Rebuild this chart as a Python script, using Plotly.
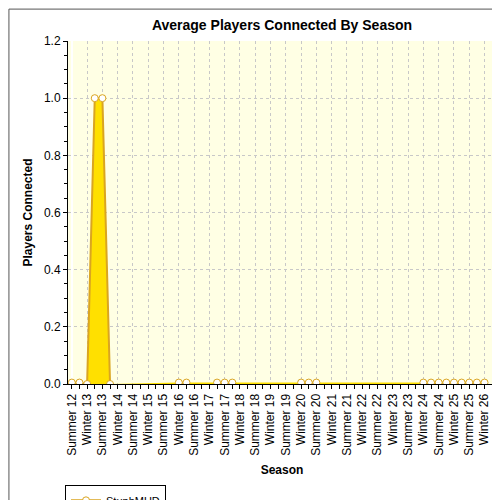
import plotly.graph_objects as go

seasons = ["Summer 12","Winter 13","Summer 13","Winter 14","Summer 14","Winter 15","Summer 15",
           "Winter 16","Summer 16","Winter 17","Summer 17","Winter 18","Summer 18","Winter 19",
           "Summer 19","Winter 20","Summer 20","Winter 21","Summer 21","Winter 22","Summer 22",
           "Winter 23","Summer 23","Winter 24","Summer 24","Winter 25","Summer 25","Winter 26"]
N = 56
values = [None]*N
for i, v in {0:0.005,1:0.005,2:0.0,3:1.0,4:1.0,5:0.0,
             14:0.005,15:0.005,19:0.005,20:0.005,21:0.005,
             30:0.005,31:0.005,32:0.005,
             46:0.005,47:0.005,48:0.005,49:0.005,50:0.005,51:0.005,52:0.005,53:0.005,54:0.005}.items():
    values[i] = v
xs = list(range(N))

fig = go.Figure()
fig.add_trace(go.Scatter(x=xs, y=values, mode="lines+markers", name="StuphMUD",
    fill="tozeroy", fillcolor="#FFE000", line=dict(color="#DAA520", width=2),
    marker=dict(symbol="circle", size=7, color="white", line=dict(color="#DAA520", width=1)),
    connectgaps=False))
fig.update_layout(
    width=500, height=500, paper_bgcolor="white", plot_bgcolor="#FFFFE4",
    margin=dict(l=60, r=12, t=33, b=124, autoexpand=False),
    title=dict(text="<b>Average Players Connected By Season</b>", x=0.5, xref="paper", y=0.966,
               xanchor="center", yanchor="middle",
               font=dict(family="Arial", size=14, color="black")),
    font=dict(family="Arial", size=12, color="black"),
    showlegend=True,
    legend=dict(x=-0.007, y=-0.294, xanchor="left", yanchor="top", bordercolor="black", borderwidth=1,
                font=dict(size=11), itemwidth=30, tracegroupgap=0),
    shapes=[dict(type="rect", xref="paper", yref="paper", x0=-0.138, x1=1.026, y0=-0.359, y1=1.093,
                 line=dict(color="#555", width=1))],
)
fig.update_xaxes(range=[-0.5, N-0.5], tickmode="array", tickvals=xs[::2], ticktext=seasons,
    tickangle=-90, ticks="outside", ticklen=4, tickcolor="black", showline=True, linecolor="black",
    showgrid=True, gridcolor="#C8C8C8", griddash="dot", gridwidth=1, automargin=False,
    minor=dict(tickvals=xs[1::2], ticks="outside", ticklen=4, tickcolor="black"),
    title=dict(text="<b>Season</b>", font=dict(size=12), standoff=10), tickfont=dict(size=12))
fig.update_yaxes(range=[0, 1.2], dtick=0.2, tickformat=".1f", ticks="outside", ticklen=4,
    tickcolor="black", showline=True, linecolor="black", mirror=False, automargin=False,
    showgrid=True, gridcolor="#C8C8C8", griddash="dot", zeroline=False,
    minor=dict(dtick=0.05, ticks="outside", ticklen=3, tickcolor="black", showgrid=False),
    title=dict(text="<b>Players Connected</b>", font=dict(size=12), standoff=8), tickfont=dict(size=12))
fig.write_html("out.html")
